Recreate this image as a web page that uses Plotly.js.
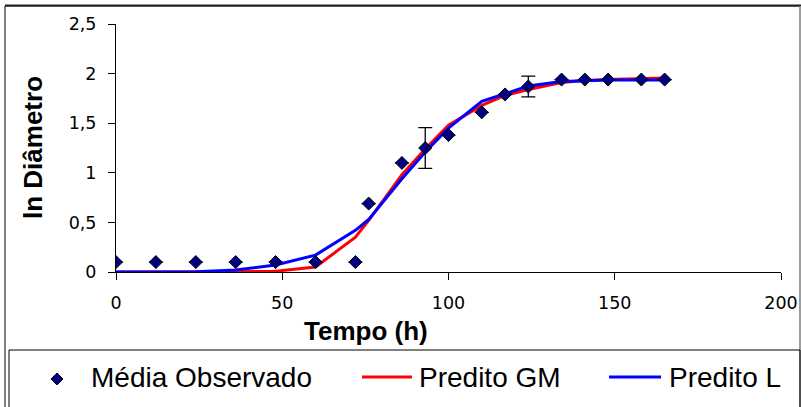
<!DOCTYPE html>
<html>
<head>
<meta charset="utf-8">
<script src="https://cdn.plot.ly/plotly-3.0.1.min.js"></script>
<style>html,body{margin:0;padding:0;background:#fff;}#chart{width:801px;height:407px;}</style>
</head>
<body>
<div id="chart"></div>
<script>
// ---- data ----
var tempo = [0, 12, 24, 36, 48, 60, 72, 76, 86, 93, 100, 110, 117, 124, 134, 141, 148, 158, 165];
var mediaObservado = [0.10, 0.10, 0.10, 0.10, 0.10, 0.10, 0.10, 0.69, 1.10, 1.25, 1.38, 1.61, 1.79, 1.87, 1.94, 1.94, 1.94, 1.94, 1.94];
var erroObservado = [null, null, null, null, null, null, null, null, null, 0.205, null, null, null, 0.105, null, null, null, null, null];
var preditoGM = [0, 0, 0, 0.003, 0.008, 0.05, 0.35, 0.52, 0.98, 1.24, 1.48, 1.68, 1.78, 1.84, 1.91, 1.93, 1.94, 1.95, 1.955];
var preditoL = [0, 0, 0.003, 0.02, 0.07, 0.17, 0.42, 0.53, 0.94, 1.21, 1.45, 1.72, 1.80, 1.875, 1.92, 1.93, 1.935, 1.935, 1.935];
var seriesNames = ["Média Observado", "Predito GM", "Predito L"];
var xTitle = "Tempo (h)";
var yTitle = "ln Diâmetro";

// ---- layout helpers (pixel -> paper) ----
var W = 801, H = 407, ML = 116, MR = 20, MT = 24, MB = 135;
var PW = W - ML - MR, PH = H - MT - MB;
function px(x) { return (x - ML) / PW; }
function py(y) { return (MT + PH - y) / PH; }

var tickFont = {family: "DejaVu Sans, Arial, sans-serif", size: 17.5, color: "#000"};
var legFont = {family: "Liberation Sans, Arial, sans-serif", size: 28, color: "#000"};
var titleFont = {family: "Liberation Sans, Arial, sans-serif", size: 26, color: "#000", weight: "bold"};

var traces = [
  {x: tempo, y: preditoGM, name: seriesNames[1], type: "scatter", mode: "lines",
   line: {color: "#ff0000", width: 3}, showlegend: false, hoverinfo: "skip"},
  {x: tempo, y: preditoL, name: seriesNames[2], type: "scatter", mode: "lines",
   line: {color: "#0000ff", width: 3}, showlegend: false, hoverinfo: "skip"},
  {x: tempo, y: mediaObservado, name: seriesNames[0], type: "scatter", mode: "markers",
   marker: {symbol: "diamond", size: 10, color: "#000080", line: {color: "#000", width: 1}},
   error_y: {type: "data", array: erroObservado, visible: true, color: "#000", thickness: 1.3, width: 7},
   showlegend: false}
];

var legY = 377;
function diamondPath(cx, cy, r) {
  var rx = r / PW, ry = r / PH;
  var x = px(cx), y = py(cy);
  return "M" + (x - rx) + "," + y + " L" + x + "," + (y + ry) + " L" + (x + rx) + "," + y + " L" + x + "," + (y - ry) + " Z";
}

var shapes = [
  // outer chart frame
  {type: "rect", xref: "paper", yref: "paper", x0: px(5), x1: px(800), y0: py(412), y1: py(6),
   line: {color: "#000", width: 1}, fillcolor: "rgba(0,0,0,0)", layer: "below"},
  {type: "line", xref: "paper", yref: "paper", x0: px(5), x1: px(801), y0: py(5.5), y1: py(5.5),
   line: {color: "#222", width: 2}},
  {type: "line", xref: "paper", yref: "paper", x0: px(800), x1: px(800), y0: py(6), y1: py(412),
   line: {color: "#bbb", width: 1}},
  // legend box
  {type: "rect", xref: "paper", yref: "paper", x0: px(9), x1: px(800), y0: py(412), y1: py(350),
   line: {color: "#000", width: 1}, fillcolor: "rgba(0,0,0,0)"},
  // legend symbols
  {type: "path", xref: "paper", yref: "paper", path: diamondPath(57, legY + 2, 6),
   fillcolor: "#000080", line: {color: "#000", width: 1}},
  {type: "line", xref: "paper", yref: "paper", x0: px(362), x1: px(412), y0: py(legY), y1: py(legY),
   line: {color: "#ff0000", width: 3}},
  {type: "line", xref: "paper", yref: "paper", x0: px(609), x1: px(661), y0: py(legY), y1: py(legY),
   line: {color: "#0000ff", width: 3}}
];

var annotations = [
  {xref: "paper", yref: "paper", x: px(366), y: py(331), text: "<b>" + xTitle + "</b>", showarrow: false,
   xanchor: "center", yanchor: "middle", font: titleFont},
  {xref: "paper", yref: "paper", x: px(33), y: 0.5, text: "<b>" + yTitle + "</b>", showarrow: false,
   textangle: -90, xanchor: "center", yanchor: "middle", font: titleFont},
  {xref: "paper", yref: "paper", x: px(89), y: py(legY), text: seriesNames[0], showarrow: false,
   xanchor: "left", yanchor: "middle", font: legFont},
  {xref: "paper", yref: "paper", x: px(417), y: py(legY), text: seriesNames[1], showarrow: false,
   xanchor: "left", yanchor: "middle", font: legFont},
  {xref: "paper", yref: "paper", x: px(667), y: py(legY), text: seriesNames[2], showarrow: false,
   xanchor: "left", yanchor: "middle", font: legFont}
];

var layout = {
  width: W, height: H,
  margin: {l: ML, r: MR, t: MT, b: MB, pad: 0},
  paper_bgcolor: "#fff", plot_bgcolor: "#fff",
  separators: ",.",
  showlegend: false,
  xaxis: {range: [0, 200], dtick: 50, tick0: 0, showgrid: false, zeroline: false,
          showline: true, linecolor: "#000", linewidth: 1, ticks: "outside", ticklen: 7,
          tickcolor: "#000", tickfont: tickFont, ticklabelstandoff: 8, fixedrange: true},
  yaxis: {range: [0, 2.5], dtick: 0.5, tick0: 0, showgrid: false, zeroline: false,
          showline: true, linecolor: "#000", linewidth: 1, ticks: "outside", ticklen: 7,
          tickcolor: "#000", tickfont: tickFont, ticklabelstandoff: 8, fixedrange: true},
  shapes: shapes,
  annotations: annotations
};

Plotly.newPlot("chart", traces, layout, {displayModeBar: false, staticPlot: true});
</script>
</body>
</html>
